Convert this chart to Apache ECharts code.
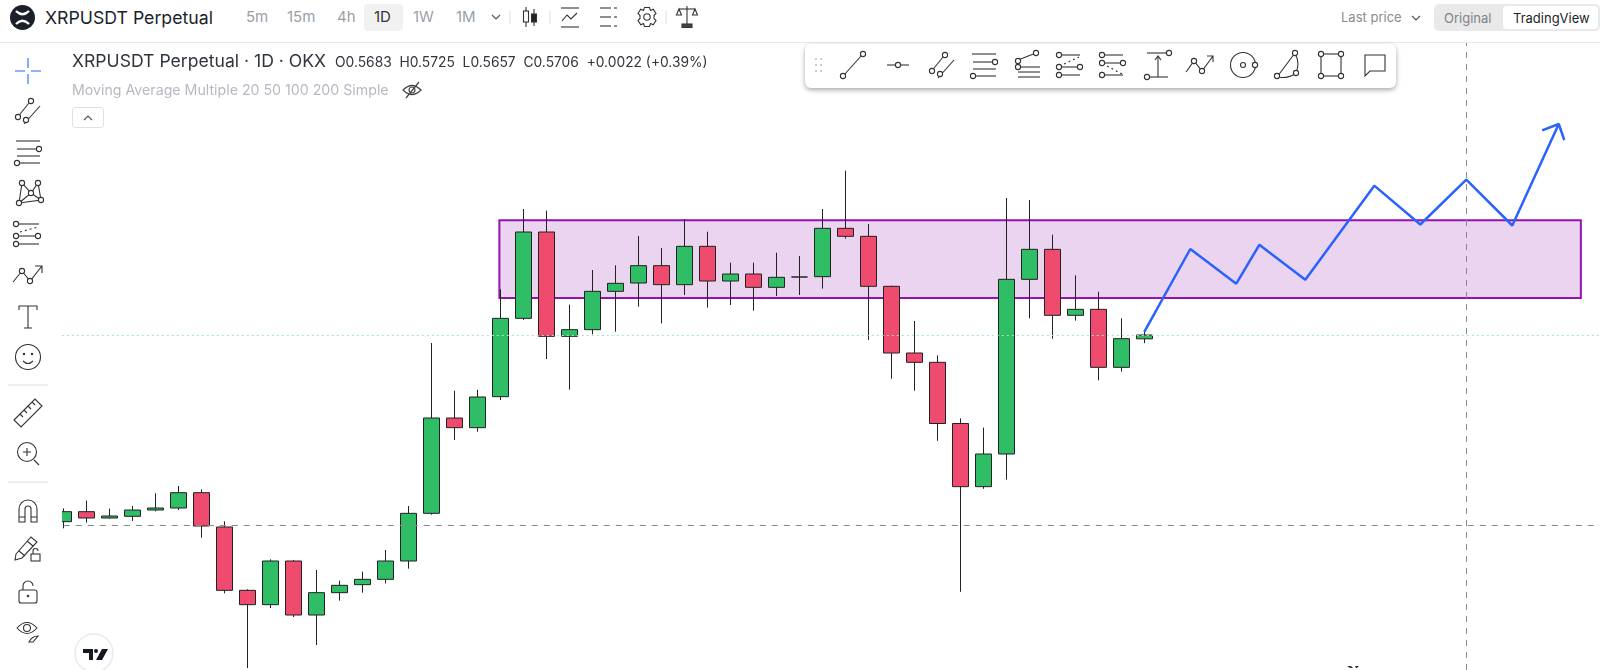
<!DOCTYPE html>
<html>
<head>
<meta charset="utf-8">
<title>XRPUSDT Perpetual</title>
<script src="https://cdn.jsdelivr.net/npm/echarts@6/dist/echarts.min.js"></script>
<style>
  html, body { margin: 0; padding: 0; background: #fff; overflow: hidden; }
  body { width: 1600px; height: 670px; position: relative; font-family: Inter, "Noto Sans", sans-serif; color: #1b1f2a; }
  #chart { position: absolute; left: 0; top: 0; width: 1600px; height: 670px; }
  #sidebar { position: absolute; left: 0; top: 43px; width: 62px; height: 627px; background: #fff; }
  #topbar { position: absolute; left: 0; top: 0; width: 1600px; height: 42px; background: #fff; border-bottom: 1px solid #e8e9ec; }
  #pill1d { position: absolute; left: 364px; top: 4px; width: 39px; height: 27px; background: #f1f1f2; border-radius: 4px; }
  #switch { position: absolute; left: 1434px; top: 4px; width: 166px; height: 27px; background: #e9e9ea; border-radius: 5px; }
  #switchOn { position: absolute; left: 1503px; top: 6px; width: 95px; height: 23px; background: #fff; border-radius: 4px; }
  #floatbar { position: absolute; left: 805px; top: 44px; width: 591px; height: 44px; background: #fff; border-radius: 6px; box-shadow: 0 2px 5px rgba(0,0,0,0.35); }
  #collapse { position: absolute; left: 72px; top: 107px; width: 32px; height: 21px; background: #fff; border: 1px solid #dfe1e5; border-radius: 3px; box-sizing: border-box; }
  .t { position: absolute; white-space: nowrap; line-height: 20px; height: 20px; }
  #icons { position: absolute; left: 0; top: 0; width: 1600px; height: 670px; pointer-events: none; }
</style>
</head>
<body>
<div id="chart"></div>
<div id="sidebar"></div>
<div id="topbar"></div>
<div id="pill1d"></div>
<div id="switch"></div>
<div id="switchOn"></div>
<div id="floatbar"></div>
<div id="collapse"></div>

<div class="t" style="left:45px;top:8px;font-size:17.7px">XRPUSDT Perpetual</div>
<div class="t" style="left:246px;top:7px;font-size:15px;color:#9b9fa7">5m</div>
<div class="t" style="left:287px;top:7px;font-size:15px;color:#9b9fa7">15m</div>
<div class="t" style="left:337px;top:7px;font-size:15px;color:#9b9fa7">4h</div>
<div class="t" style="left:374px;top:7px;font-size:15px;color:#30343c">1D</div>
<div class="t" style="left:413px;top:7px;font-size:15px;color:#9b9fa7">1W</div>
<div class="t" style="left:456px;top:7px;font-size:15px;color:#9b9fa7">1M</div>
<div class="t" style="left:1341px;top:7px;font-size:13px;color:#8d8a86">Last price</div>
<div class="t" style="left:1444px;top:8px;font-size:13px;color:#7f8389">Original</div>
<div class="t" style="left:1513px;top:8px;font-size:13px;color:#1b1f2a">TradingView</div>
<div class="t" style="left:72px;top:51px;font-size:17.6px;color:#30343c">XRPUSDT Perpetual · 1D · OKX</div>
<div class="t" style="left:335px;top:52px;font-size:13.8px;color:#30343c">O0.5683&nbsp; H0.5725&nbsp; L0.5657&nbsp; C0.5706&nbsp; +0.0022 (+0.39%)</div>
<div class="t" style="left:72px;top:80px;font-size:14.2px;color:#b6b9c0">Moving Average Multiple 20 50 100 200 Simple</div>

<svg id="icons" xmlns="http://www.w3.org/2000/svg" viewBox="0 0 1600 670"></svg>

<script>
// candles, oldest first
const opens = [0.4586, 0.4646, 0.4608, 0.4618, 0.4656, 0.4668, 0.4760, 0.4554, 0.4174, 0.4088, 0.4350, 0.4026, 0.4160, 0.4208, 0.4240, 0.4350,
  0.4636, 0.5208, 0.5150, 0.5336, 0.5806, 0.6324, 0.5698, 0.5738, 0.5968, 0.6018, 0.6122, 0.6008, 0.6238, 0.6030, 0.6072, 0.5992,
  0.6054, 0.6056, 0.6346, 0.6298, 0.5998, 0.5598, 0.5542, 0.5175, 0.4796, 0.4992, 0.6040, 0.6220, 0.5824, 0.5860, 0.5512, 0.5683];
const closes = [0.4646, 0.4608, 0.4620, 0.4656, 0.4668, 0.4760, 0.4560, 0.4174, 0.4088, 0.4350, 0.4026, 0.4160, 0.4204, 0.4240, 0.4350, 0.4636,
  0.5208, 0.5150, 0.5334, 0.5806, 0.6324, 0.5698, 0.5738, 0.5968, 0.6016, 0.6122, 0.6008, 0.6238, 0.6030, 0.6072, 0.5992, 0.6052,
  0.6054, 0.6346, 0.6298, 0.5998, 0.5598, 0.5542, 0.5175, 0.4796, 0.4992, 0.6040, 0.6220, 0.5824, 0.5860, 0.5512, 0.5684, 0.5706];
const lows = [0.4546, 0.4580, 0.4605, 0.4590, 0.4648, 0.4656, 0.4490, 0.4156, 0.3708, 0.4068, 0.4014, 0.3846, 0.4112, 0.4160, 0.4216, 0.4304,
  0.4628, 0.5076, 0.5126, 0.5316, 0.5796, 0.5562, 0.5378, 0.5710, 0.5726, 0.5876, 0.5776, 0.5946, 0.5870, 0.5886, 0.5852, 0.5940,
  0.5946, 0.5984, 0.6284, 0.5676, 0.5444, 0.5372, 0.5071, 0.4165, 0.4783, 0.4838, 0.5806, 0.5684, 0.5792, 0.5434, 0.5486, 0.5657];
const highs = [0.4666, 0.4712, 0.4664, 0.4680, 0.4756, 0.4800, 0.4780, 0.4588, 0.4180, 0.4360, 0.4356, 0.4296, 0.4232, 0.4286, 0.4416, 0.4680,
  0.5658, 0.5371, 0.5377, 0.5980, 0.6462, 0.6452, 0.5888, 0.6096, 0.6124, 0.6300, 0.6228, 0.6402, 0.6326, 0.6140, 0.6140, 0.6200,
  0.6180, 0.6462, 0.6692, 0.6372, 0.6002, 0.5790, 0.5584, 0.5206, 0.5150, 0.6528, 0.6516, 0.6308, 0.6064, 0.5966, 0.5806, 0.5725];

// drawn projection, x in candle slots
const pathSlots = [47, 49, 51, 52, 54, 57, 59, 61, 63, 65.02];
const pathPrices = [0.5725, 0.6222, 0.6014, 0.6247, 0.6038, 0.6602, 0.6369, 0.6638, 0.6363, 0.6972];
const headSlots = [64.3, 65.02, 65.26];
const headPrices = [0.6934, 0.6972, 0.6876];

const zoneSlots = [18.96, 65.98];
const zonePrices = [0.6394, 0.5928];
const crossPrice = 0.4564;
const crossSlot = 61;
const lastPrice = 0.5706;

const slotCount = 68;
const categories = [];
for (let i = 0; i < slotCount; i++) categories.push("D" + i);

const chart = echarts.init(document.getElementById("chart"));
chart.setOption({
  animation: false,
  grid: { left: 51.8, top: 40, width: 1564, height: 630, outerBoundsMode: "none" },
  xAxis: [
    { type: "category", data: categories, show: false },
    { type: "value", min: -0.5, max: slotCount - 0.5, show: false }
  ],
  yAxis: { type: "value", min: 0.3696, max: 0.7476, show: false },
  series: [
    {
      type: "candlestick",
      barWidth: 16,
      data: opens.map((o, i) => [o, closes[i], lows[i], highs[i]]),
      itemStyle: {
        color: "#2fbd65",
        color0: "#ee4b6e",
        borderColor: "#222",
        borderColor0: "#222",
        borderColorDoji: "#222",
        borderWidth: 1
      },
      markLine: {
        silent: true,
        symbol: "none",
        precision: 4,
        label: { show: false },
        data: [
          { yAxis: crossPrice, lineStyle: { color: "#8a8a8a", type: [6, 6], width: 1 } },
          { yAxis: lastPrice, lineStyle: { color: "#a9e4c1", type: [2, 3], width: 1 } },
          { xAxis: categories[crossSlot], lineStyle: { color: "#8a8a8a", type: [6, 6], width: 1 } }
        ]
      }
    },
    {
      type: "line",
      xAxisIndex: 1,
      z: 4,
      symbol: "none",
      data: pathSlots.map((s, i) => [s, pathPrices[i]]),
      lineStyle: { color: "#2962ff", width: 2.5 },
      markArea: {
        silent: true,
        itemStyle: { color: "rgba(156,39,176,0.2)", borderColor: "#9612b0", borderWidth: 2 },
        data: [[
          { xAxis: zoneSlots[0], yAxis: zonePrices[0] },
          { xAxis: zoneSlots[1], yAxis: zonePrices[1] }
        ]]
      }
    },
    {
      type: "line",
      xAxisIndex: 1,
      z: 4,
      symbol: "none",
      data: headSlots.map((s, i) => [s, headPrices[i]]),
      lineStyle: { color: "#2962ff", width: 2.5 }
    }
  ]
});

// toolbar icons, each centred on its own spot
const hc = (x, y, r) => `<circle cx="${x}" cy="${y}" r="${r || 2.6}" fill="#fff"/>`;
const ln = (a, b, c, d) => `<path d="M${a} ${b}L${c} ${d}"/>`;
const trendIcon = ln(-9, 10, 9, -10) + hc(-10, 11) + hc(10, -11);
const channelIcon = ln(-12, 8, 1, -8) + ln(-4, 13, 12, -5) + hc(-10, 6) + hc(3, -10) + hc(-2, 9);
const fibIcon = ln(-12, -11, 12, -11) + ln(-11, -3, 10, -3) + ln(-11, 4, 12, 4) + ln(-9, 11, 12, 11) + hc(11, -3) + hc(-11, 11);
const icons = [
  // header
  [530, 17, ln(-4, -10, -4, 10) + ln(4, -8, 4, 9) + '<rect x="-6.5" y="-6" width="5" height="11" fill="#fff"/><rect x="1.5" y="-3" width="5" height="8" fill="#222"/>'],
  [570, 17, ln(-9, -9, 9, -9) + ln(-9, 10, 9, 10) + '<path d="M-8 4L-3 -2L1 2L7 -4"/>'],
  [608, 17, ln(-8, -9, 3, -9) + ln(-8, 0, 3, 0) + ln(-8, 9, 3, 9) + ln(6, -9, 9, -9) + ln(6, 0, 9, 0) + ln(6, 9, 9, 9)],
  [647, 17, '<circle r="3.2"/><path d="M-2.5 -9.5H2.5L3.5 -6.6L6.2 -7.7L9 -3.5L7 -1.5V1.5L9 3.5L6.2 7.7L3.5 6.6L2.5 9.5H-2.5L-3.5 6.6L-6.2 7.7L-9 3.5L-7 1.5V-1.5L-9 -3.5L-6.2 -7.7L-3.5 -6.6Z"/>'],
  [687, 17, ln(-8, -8, 8, -8) + ln(0, -11, 0, 7) + '<path d="M-8 -8L-10.5 -2H-5.5ZM8 -8L5.5 -2H10.5Z"/><rect x="-5" y="7" width="10" height="3.5" fill="#444"/>'],
  // left toolbar
  [28, 71, '<path stroke="#2962ff" d="M-13 0H-3M3 0H13M0 -13V-3M0 3V13"/>'],
  [28, 111, channelIcon],
  [28, 152, fibIcon],
  [28, 193, '<path d="M-9 10L-6 -10L3 0L10 -10L13 7L-9 10M-9 10L3 0L13 7M-6 -10L3 0"/>' + hc(-9, 10) + hc(-6, -10) + hc(3, 0) + hc(10, -10) + hc(13, 7)],
  [28, 235, ln(-10, -11, 11, -11) + ln(-10, 1, 10, 1) + ln(-10, 9, 11, 9) + '<path stroke-dasharray="2 3" d="M-8 -3L10 -8"/>' + hc(-12, -11) + hc(-12, 1) + hc(10, 1) + hc(-12, 9)],
  [28, 275, '<path d="M-15 7L-6 -4L2 6L14 -9M7 -9H14V-2"/>' + hc(-6, -4) + hc(2, 6)],
  [28, 317, '<path d="M-9 -7V-11H9V-7M0 -11V11M-4 11H4"/>'],
  [28, 357, '<circle r="12.5"/><circle cx="-4" cy="-3" r="0.7"/><circle cx="4" cy="-3" r="0.7"/><path d="M-5 4Q0 9 5 4"/>'],
  [28, 413, '<path d="M-14 7L7 -14L14 -7L-7 14ZM-8 1L-5 4M-4 -3L-1 0M0 -7L3 -4M4 -11L7 -8"/>'],
  [28, 453, '<circle cx="-1" cy="-1" r="9.5"/><path d="M6 7L11 12M-5 -1H3M-1 -5V3"/>'],
  [28, 510, '<path d="M-9 12V-1A9 9 0 0 1 9 -1V12H3V-1A3 3 0 0 0 -3 -1V12ZM-9 7H-3M3 7H9"/>'],
  [28, 548, '<path d="M-12 6L3 -11L9 -6L-6 10L-13 12ZM-1 -7L5 -2M-9 3L-3 8"/><rect x="3" y="6" width="9" height="7" fill="#fff"/><path d="M5 6V3A2.5 2.5 0 0 1 10 3"/>'],
  [28, 593, '<rect x="-9" y="-3" width="18" height="13" rx="2"/><path d="M-5 -3V-7A5 5 0 0 1 5 -7"/><circle cy="3" r="0.8"/>'],
  [27, 628, '<path d="M-10 0Q0 -11 10 0Q0 11 -10 0Z"/><circle r="3.5"/><path d="M2 14Q5 8 11 8L6 14Z"/>'],
  // floating drawing bar
  [853, 65, trendIcon],
  [898, 65, ln(-11, 0, 11, 0) + hc(0, 0)],
  [942, 65, channelIcon],
  [984, 65, fibIcon],
  [1028, 65, ln(-10, -5, 8, -12) + hc(-10, -4) + hc(8, -12) + ln(-10, 2, 12, 2) + ln(-10, 7, 12, 7) + ln(-10, 12, 12, 12) + hc(-10, 2)],
  [1070, 65, ln(-11, -10, 10, -10) + ln(-11, 2, 10, 2) + ln(-11, 10, 10, 10) + '<path stroke-dasharray="2 3" d="M-6 -1L9 -8"/>' + hc(-11, -10) + hc(-11, 2) + hc(10, 2) + hc(-11, 10)],
  [1113, 65, ln(-11, -10, 10, -10) + ln(-11, -2, 10, -2) + ln(-11, 10, 10, 10) + '<path stroke-dasharray="2 3" d="M-6 1L9 9"/>' + hc(-11, -10) + hc(-11, -2) + hc(10, -2) + hc(-11, 10)],
  [1158, 65, ln(-11, -12, 8, -12) + ln(-8, 12, 10, 12) + ln(0, 12, 0, -8) + '<path d="M-3 -5L0 -9L3 -5"/>' + hc(11, -12) + hc(-11, 12)],
  [1200, 65, '<path d="M-14 7L-6 -4L2 6L13 -9M7 -9H13V-3"/>' + hc(-6, -4) + hc(2, 6)],
  [1243, 65, '<circle r="12.5"/><circle r="2.5"/>' + hc(12, 0)],
  [1287, 65, '<path d="M-10 12L8 -12Q14 0 8 9Q0 14 -10 12"/>' + hc(-10, 11) + hc(8, -12) + hc(9, 8)],
  [1331, 65, '<rect x="-10" y="-11" width="20" height="22"/>' + hc(-10, -11) + hc(10, -11) + hc(-10, 11) + hc(10, 11)],
  [1375, 65, '<path d="M-10 -10H10V6H-5L-10 11Z"/>']
];
let svg = "";
for (const [x, y, body] of icons) {
  svg += `<g transform="translate(${x},${y})" fill="none" stroke="#333" stroke-width="1.1">${body}</g>`;
}
// small chevrons, separators and the rest of the furniture
const chev = (x, y, up) => `<path d="M${x - 4} ${y + (up ? 2 : -2)}L${x} ${y + (up ? -2 : 2)}L${x + 4} ${y + (up ? 2 : -2)}" fill="none" stroke="#555" stroke-width="1.2"/>`;
svg += chev(496, 17) + chev(1416, 18) + chev(88, 118, true);
for (const x of [510, 550, 666]) svg += `<path d="M${x} 11V24" stroke="#dcdde0"/>`;
for (const y of [385, 482]) svg += `<path d="M8 ${y}H48" stroke="#dcdde0"/>`;
for (const dy of [59, 65, 71]) svg += `<path d="M815 ${dy}h2M820 ${dy}h2" stroke="#c9ccd1" stroke-width="2"/>`;
// logo
svg += '<circle cx="22.5" cy="17.5" r="12.5" fill="#1b1f2a"/><path d="M16 11Q22.5 17.5 29 11M16 24Q22.5 17.5 29 24" fill="none" stroke="#fff" stroke-width="2.4"/>';
// eye-off beside the indicator row
svg += '<g transform="translate(412,90)" fill="none" stroke="#444" stroke-width="1.2"><path d="M-9 0Q0 -9 9 0Q0 9 -9 0Z"/><circle r="3"/><path d="M-6 8L7 -8"/></g>';
// watermark
svg += '<circle cx="94" cy="653" r="19" fill="#fff" stroke="#e8eaf0" stroke-width="1.5"/><path d="M83 649H93V660H89V653H83ZM102 649H108L102 660H96Z" fill="#141824"/><circle cx="96" cy="651" r="2" fill="#141824"/>';
// clipped tick label at the bottom edge
svg += '<path d="M1347 666h4l2 2h-3ZM1355 666h4l-2 2h-1Z" fill="#333"/>';
document.getElementById("icons").innerHTML = svg;
</script>
</body>
</html>
